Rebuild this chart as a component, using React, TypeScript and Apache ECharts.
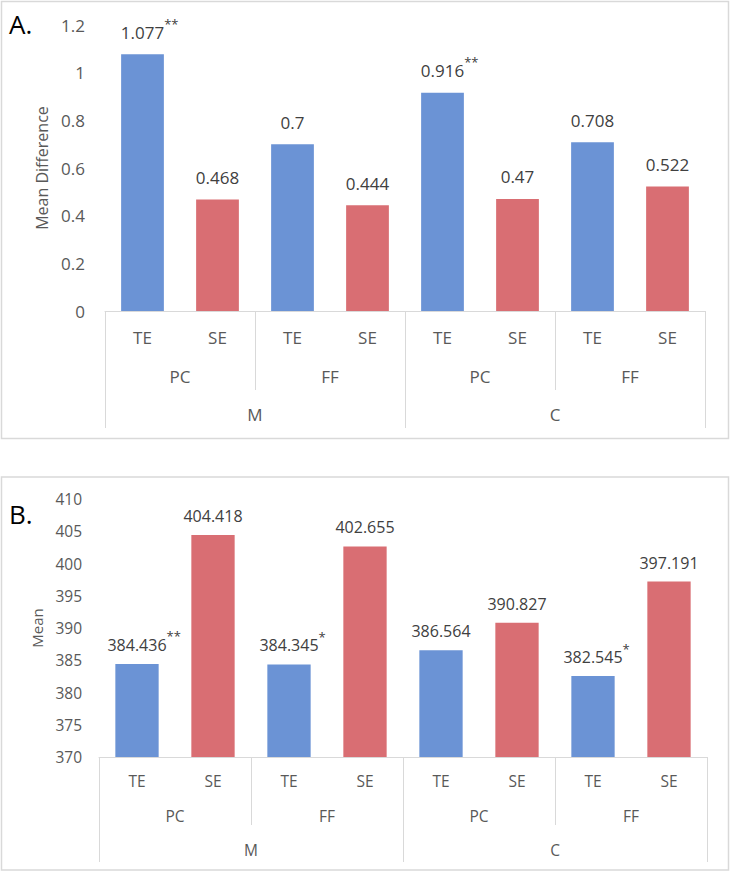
import React, { useEffect, useRef } from "react";
import * as echarts from "echarts";

// ---- data ----
const conditions = ["TE", "SE", "TE", "SE", "TE", "SE", "TE", "SE"];
const tasks = ["PC", "FF", "PC", "FF"];
const groups = ["M", "C"];
const meanDifference = [1.077, 0.468, 0.7, 0.444, 0.916, 0.47, 0.708, 0.522];
const sigA = ["**", "", "", "", "**", "", "", ""];
const meanValues = [384.436, 404.418, 384.345, 402.655, 386.564, 390.827, 382.545, 397.191];
const sigB = ["**", "", "*", "", "", "", "*", ""];
const yRangeA = [0, 1.2, 0.2];
const yRangeB = [370, 410, 5];
const panelTitles = ["A.", "B."];
const yNames = ["Mean Difference", "Mean"];

const FONT = "'Open Sans', 'Noto Sans', sans-serif";
const BLUE = "#6B93D5";
const RED = "#D96E73";
const AXIS_TXT = "#595959";
const LABEL_TXT = "#404040";
const LINE = "#d9d9d9";

function xAxes(gridIndex: number, fontSize: number, margins: number[], tickLens: number[]) {
  const base = {
    type: "category",
    gridIndex,
    position: "bottom",
    boundaryGap: true,
    splitLine: { show: false },
  };
  return [
    {
      ...base,
      data: conditions,
      axisLine: { show: true, lineStyle: { color: LINE, width: 1 } },
      axisTick: { show: false },
      axisLabel: { interval: 0, margin: margins[0], fontSize, color: AXIS_TXT, fontFamily: FONT },
    },
    {
      ...base,
      data: tasks,
      axisLine: { show: false },
      axisTick: { show: true, interval: 0, length: tickLens[0], lineStyle: { color: LINE, width: 1 } },
      axisLabel: { interval: 0, margin: margins[1], fontSize, color: AXIS_TXT, fontFamily: FONT },
    },
    {
      ...base,
      data: groups,
      axisLine: { show: false },
      axisTick: { show: true, interval: 0, length: tickLens[1], lineStyle: { color: LINE, width: 1 } },
      axisLabel: { interval: 0, margin: margins[2], fontSize, color: AXIS_TXT, fontFamily: FONT },
    },
  ];
}

function yAxis(gridIndex: number, range: number[], name: string, fontSize: number, nameSize: number, margin: number, nameGap: number) {
  return {
    type: "value",
    gridIndex,
    min: range[0],
    max: range[1],
    interval: range[2],
    name,
    nameLocation: "middle",
    nameGap,
    nameRotate: 90,
    nameTextStyle: { fontSize: nameSize, color: AXIS_TXT, fontFamily: FONT },
    axisLine: { show: false },
    axisTick: { show: false },
    splitLine: { show: false },
    axisLabel: { fontSize, color: AXIS_TXT, margin, fontFamily: FONT },
  };
}

function barSeries(
  values: number[],
  sig: string[],
  xAxisIndex: number,
  yAxisIndex: number,
  fontSize: number,
  starSize: number,
  distance: number
) {
  return {
    type: "bar",
    xAxisIndex,
    yAxisIndex,
    barWidth: "57%",
    data: values.map((v, i) => ({
      value: v,
      itemStyle: { color: conditions[i] === "TE" ? BLUE : RED },
    })),
    label: {
      show: true,
      position: "top",
      distance,
      formatter: (p: any) => {
        const s = sig[p.dataIndex];
        const val = String(p.value);
        return s ? `{h|${s}}{v|${val}}{s|${s}}` : `{v|${val}}`;
      },
      rich: {
        v: { fontSize, lineHeight: 30, color: LABEL_TXT, fontFamily: FONT },
        h: { fontSize: starSize, lineHeight: 6, verticalAlign: "top", color: "rgba(0,0,0,0)", fontFamily: FONT },
        s: { fontSize: starSize, lineHeight: 6, verticalAlign: "top", color: LABEL_TXT, fontFamily: FONT },
      },
    },
  };
}

export default function App() {
  const ref = useRef<HTMLDivElement>(null);
  useEffect(() => {
    document.body.style.margin = "0";
    if (!ref.current) return;
    const chart = echarts.init(ref.current, undefined, { renderer: "svg" });
    const option: any = {
      animation: false,
      backgroundColor: "#ffffff",
      textStyle: { fontFamily: FONT },
      grid: [
        { left: 105, top: 25, width: 600, height: 286 },
        { left: 99, top: 499, width: 608, height: 258 },
      ],
      xAxis: [
        ...xAxes(0, 17, [18, 57, 95], [79, 117]),
        ...xAxes(1, 15.5, [16, 51, 85], [68, 105]),
      ],
      yAxis: [
        yAxis(0, yRangeA, yNames[0], 17, 16, 20, 55),
        yAxis(1, yRangeB, yNames[1], 15.5, 15, 17, 50),
      ],
      series: [
        barSeries(meanDifference, sigA, 0, 0, 17, 13, 7),
        barSeries(meanValues, sigB, 3, 1, 16, 13, 4),
      ],
      graphic: [
        {
          type: "rect",
          shape: { x: 1.5, y: 1.5, width: 727, height: 437 },
          style: { fill: "none", stroke: LINE, lineWidth: 1.5 },
          z: -1,
        },
        {
          type: "rect",
          shape: { x: 1.5, y: 477, width: 727, height: 393 },
          style: { fill: "none", stroke: LINE, lineWidth: 1.5 },
          z: -1,
        },
        {
          type: "text",
          x: 9,
          y: 24,
          style: { text: panelTitles[0], fontSize: 26, fill: "#000", fontFamily: FONT, verticalAlign: "middle" },
        },
        {
          type: "text",
          x: 9,
          y: 514,
          style: { text: panelTitles[1], fontSize: 26, fill: "#000", fontFamily: FONT, verticalAlign: "middle" },
        },
      ],
    };
    chart.setOption(option);
    return () => chart.dispose();
  }, []);
  return (
    <div
      ref={ref}
      style={{ position: "absolute", left: 0, top: 0, width: 731, height: 873 }}
    />
  );
}
